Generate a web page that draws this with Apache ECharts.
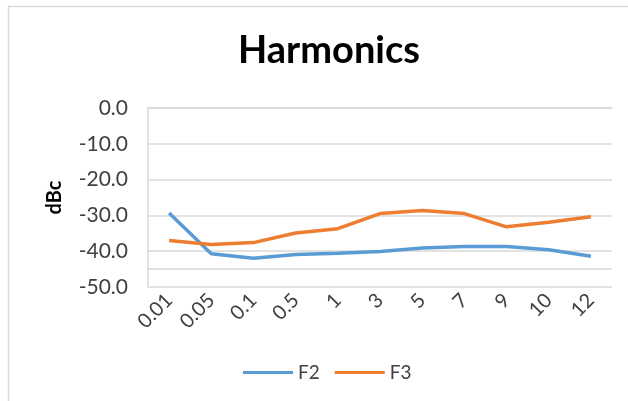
<!DOCTYPE html>
<html>
<head>
<meta charset="utf-8">
<script src="https://cdn.jsdelivr.net/npm/echarts@6/dist/echarts.min.js"></script>
<style>
html,body{margin:0;padding:0;background:#fff;}
#chart{width:628px;height:401px;}
</style>
</head>
<body>
<div id="chart"></div>
<script>
var categories = ['0.01', '0.05', '0.1', '0.5', '1', '3', '5', '7', '9', '10', '12'];
var f2 = [-29.3, -40.7, -42.0, -40.9, -40.6, -40.1, -39.1, -38.7, -38.7, -39.6, -41.4];
var f3 = [-37.0, -38.1, -37.6, -34.9, -33.7, -29.5, -28.6, -29.5, -33.2, -31.9, -30.4];
var yTicks = { min: -50, max: 0, interval: 10 };
var extraGridValue = -45;

var FONT = 'Lato, "Noto Sans", sans-serif';
var chart = echarts.init(document.getElementById('chart'));
chart.setOption({
  animation: false,
  backgroundColor: '#ffffff',
  graphic: [{
    type: 'rect',
    shape: { x: 8.5, y: 6.5, width: 700, height: 500 },
    style: { fill: 'none', stroke: '#d9d9d9', lineWidth: 1.5 },
    silent: true
  }],
  title: {
    text: 'Harmonics',
    left: 324, top: 27, textAlign: 'center',
    textStyle: { fontFamily: FONT, fontWeight: 'bold', fontSize: 38, color: '#000' }
  },
  legend: {
    bottom: 14, left: 238,
    itemWidth: 50, itemHeight: 3, itemGap: 15,
    icon: 'rect',
    textStyle: { fontFamily: FONT, fontSize: 19, color: '#404040' },
    data: ['F2', 'F3']
  },
  grid: { left: 148, right: 16, top: 108, bottom: 114 },
  xAxis: {
    type: 'category',
    data: categories,
    boundaryGap: true,
    axisLine: { show: true, lineStyle: { color: '#d9d9d9', width: 1.5 } },
    axisTick: { show: false },
    axisLabel: { rotate: 45, margin: 10, fontFamily: FONT, fontSize: 20, color: '#404040', interval: 0 }
  },
  yAxis: {
    type: 'value',
    min: yTicks.min, max: yTicks.max, interval: yTicks.interval,
    name: 'dBc', nameLocation: 'middle', nameGap: 83, nameRotate: 90,
    nameTextStyle: { fontFamily: FONT, fontWeight: 'bold', fontSize: 20, color: '#000' },
    axisLine: { show: true, lineStyle: { color: '#d9d9d9', width: 1.5 } },
    axisTick: { show: false },
    splitLine: { show: true, lineStyle: { color: '#d9d9d9', width: 1.5 } },
    axisLabel: { margin: 20, fontFamily: FONT, fontSize: 21, color: '#404040',
      formatter: function (v) { return v.toFixed(1); } }
  },
  series: [
    { name: 'F2', type: 'line', data: f2, symbol: 'none',
      lineStyle: { color: '#5B9BD5', width: 3.5 }, itemStyle: { color: '#5B9BD5' },
      markLine: { silent: true, symbol: 'none', label: { show: false },
        lineStyle: { color: '#d9d9d9', width: 1.5, type: 'solid' },
        data: [{ yAxis: extraGridValue }] }, z: 2 },
    { name: 'F3', type: 'line', data: f3, symbol: 'none',
      lineStyle: { color: '#ED7D31', width: 3.5 }, itemStyle: { color: '#ED7D31' }, z: 3 }
  ]
});
</script>
</body>
</html>
